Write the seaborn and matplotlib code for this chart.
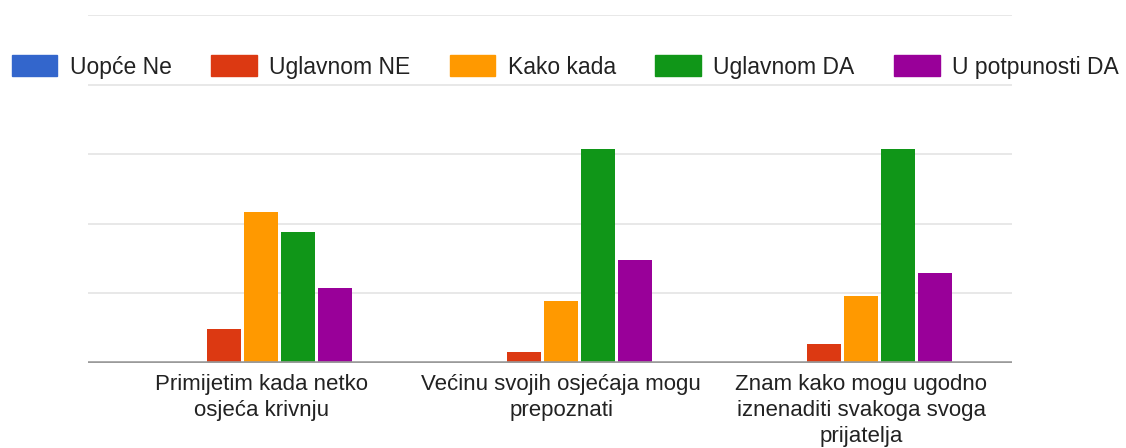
import pandas as pd
import numpy as np
from matplotlib import pyplot as plt
import seaborn as sns

categories = ["Primijetim kada netko\nosjeća krivnju",
              "Većinu svojih osjećaja mogu\nprepoznati",
              "Znam kako mogu ugodno\niznenaditi svakoga svoga\nprijatelja"]
answers = ["Uopće Ne", "Uglavnom NE", "Kako kada", "Uglavnom DA", "U potpunosti DA"]
uopce_ne = [0, 0, 0]
uglavnom_ne = [3.9, 1.3, 2.2]
kako_kada = [17.3, 7.1, 7.7]
uglavnom_da = [15.0, 24.6, 24.6]
u_potpunosti_da = [8.6, 11.8, 10.3]
colors = ["#3366CC", "#DC3912", "#FF9900", "#109618", "#990099"]

series = [uopce_ne, uglavnom_ne, kako_kada, uglavnom_da, u_potpunosti_da]
rows = []
for ans, vals in zip(answers, series):
    for cat, v in zip(categories, vals):
        rows.append({"pitanje": cat, "odgovor": ans, "broj": v})
df = pd.DataFrame(rows)

sns.set_theme(style="white")
plt.rcParams['font.family'] = ['Liberation Sans', 'DejaVu Sans']

fig = plt.figure(figsize=(11.26, 4.48), dpi=100)
ax = fig.add_axes([88 / 1126, 1 - 363 / 448, (1012 - 88) / 1126, (363 - 15) / 448])

sns.barplot(data=df, x="pitanje", y="broj", hue="odgovor", order=categories,
            hue_order=answers, palette=colors, width=0.617, gap=0.08,
            saturation=1, linewidth=0, ax=ax, legend=False)

ax.set_ylim(0, 40)
ax.set_yticks(np.arange(0, 41, 8))
ax.set_yticklabels([])
ax.tick_params(axis='y', length=0)
ax.tick_params(axis='x', length=0, pad=8, labelsize=16, labelcolor="#222222")
ax.set_xlim(-0.577, 2.503)
ax.yaxis.grid(True, color="#e4e4e4", linewidth=1.2)
ax.set_axisbelow(True)
ax.axhline(0, color="#9a9a9a", linewidth=2.6, zorder=5)
for s in ax.spines.values():
    s.set_visible(False)
ax.set_xlabel("")
ax.set_ylabel("")
for lab in ax.get_xticklabels():
    lab.set_horizontalalignment("center")
    lab.set_linespacing(1.3)

handles = [plt.Rectangle((0, 0), 1, 1, color=c) for c in colors]
fig.legend(handles, answers, loc="center", bbox_to_anchor=(0.502, 1 - 67 / 448),
           ncol=5, frameon=False, fontsize=16.5, handlelength=2.0, handleheight=1.0,
           handletextpad=0.55, columnspacing=1.7, labelcolor="#222222")

fig.savefig("out.png", dpi=100)
